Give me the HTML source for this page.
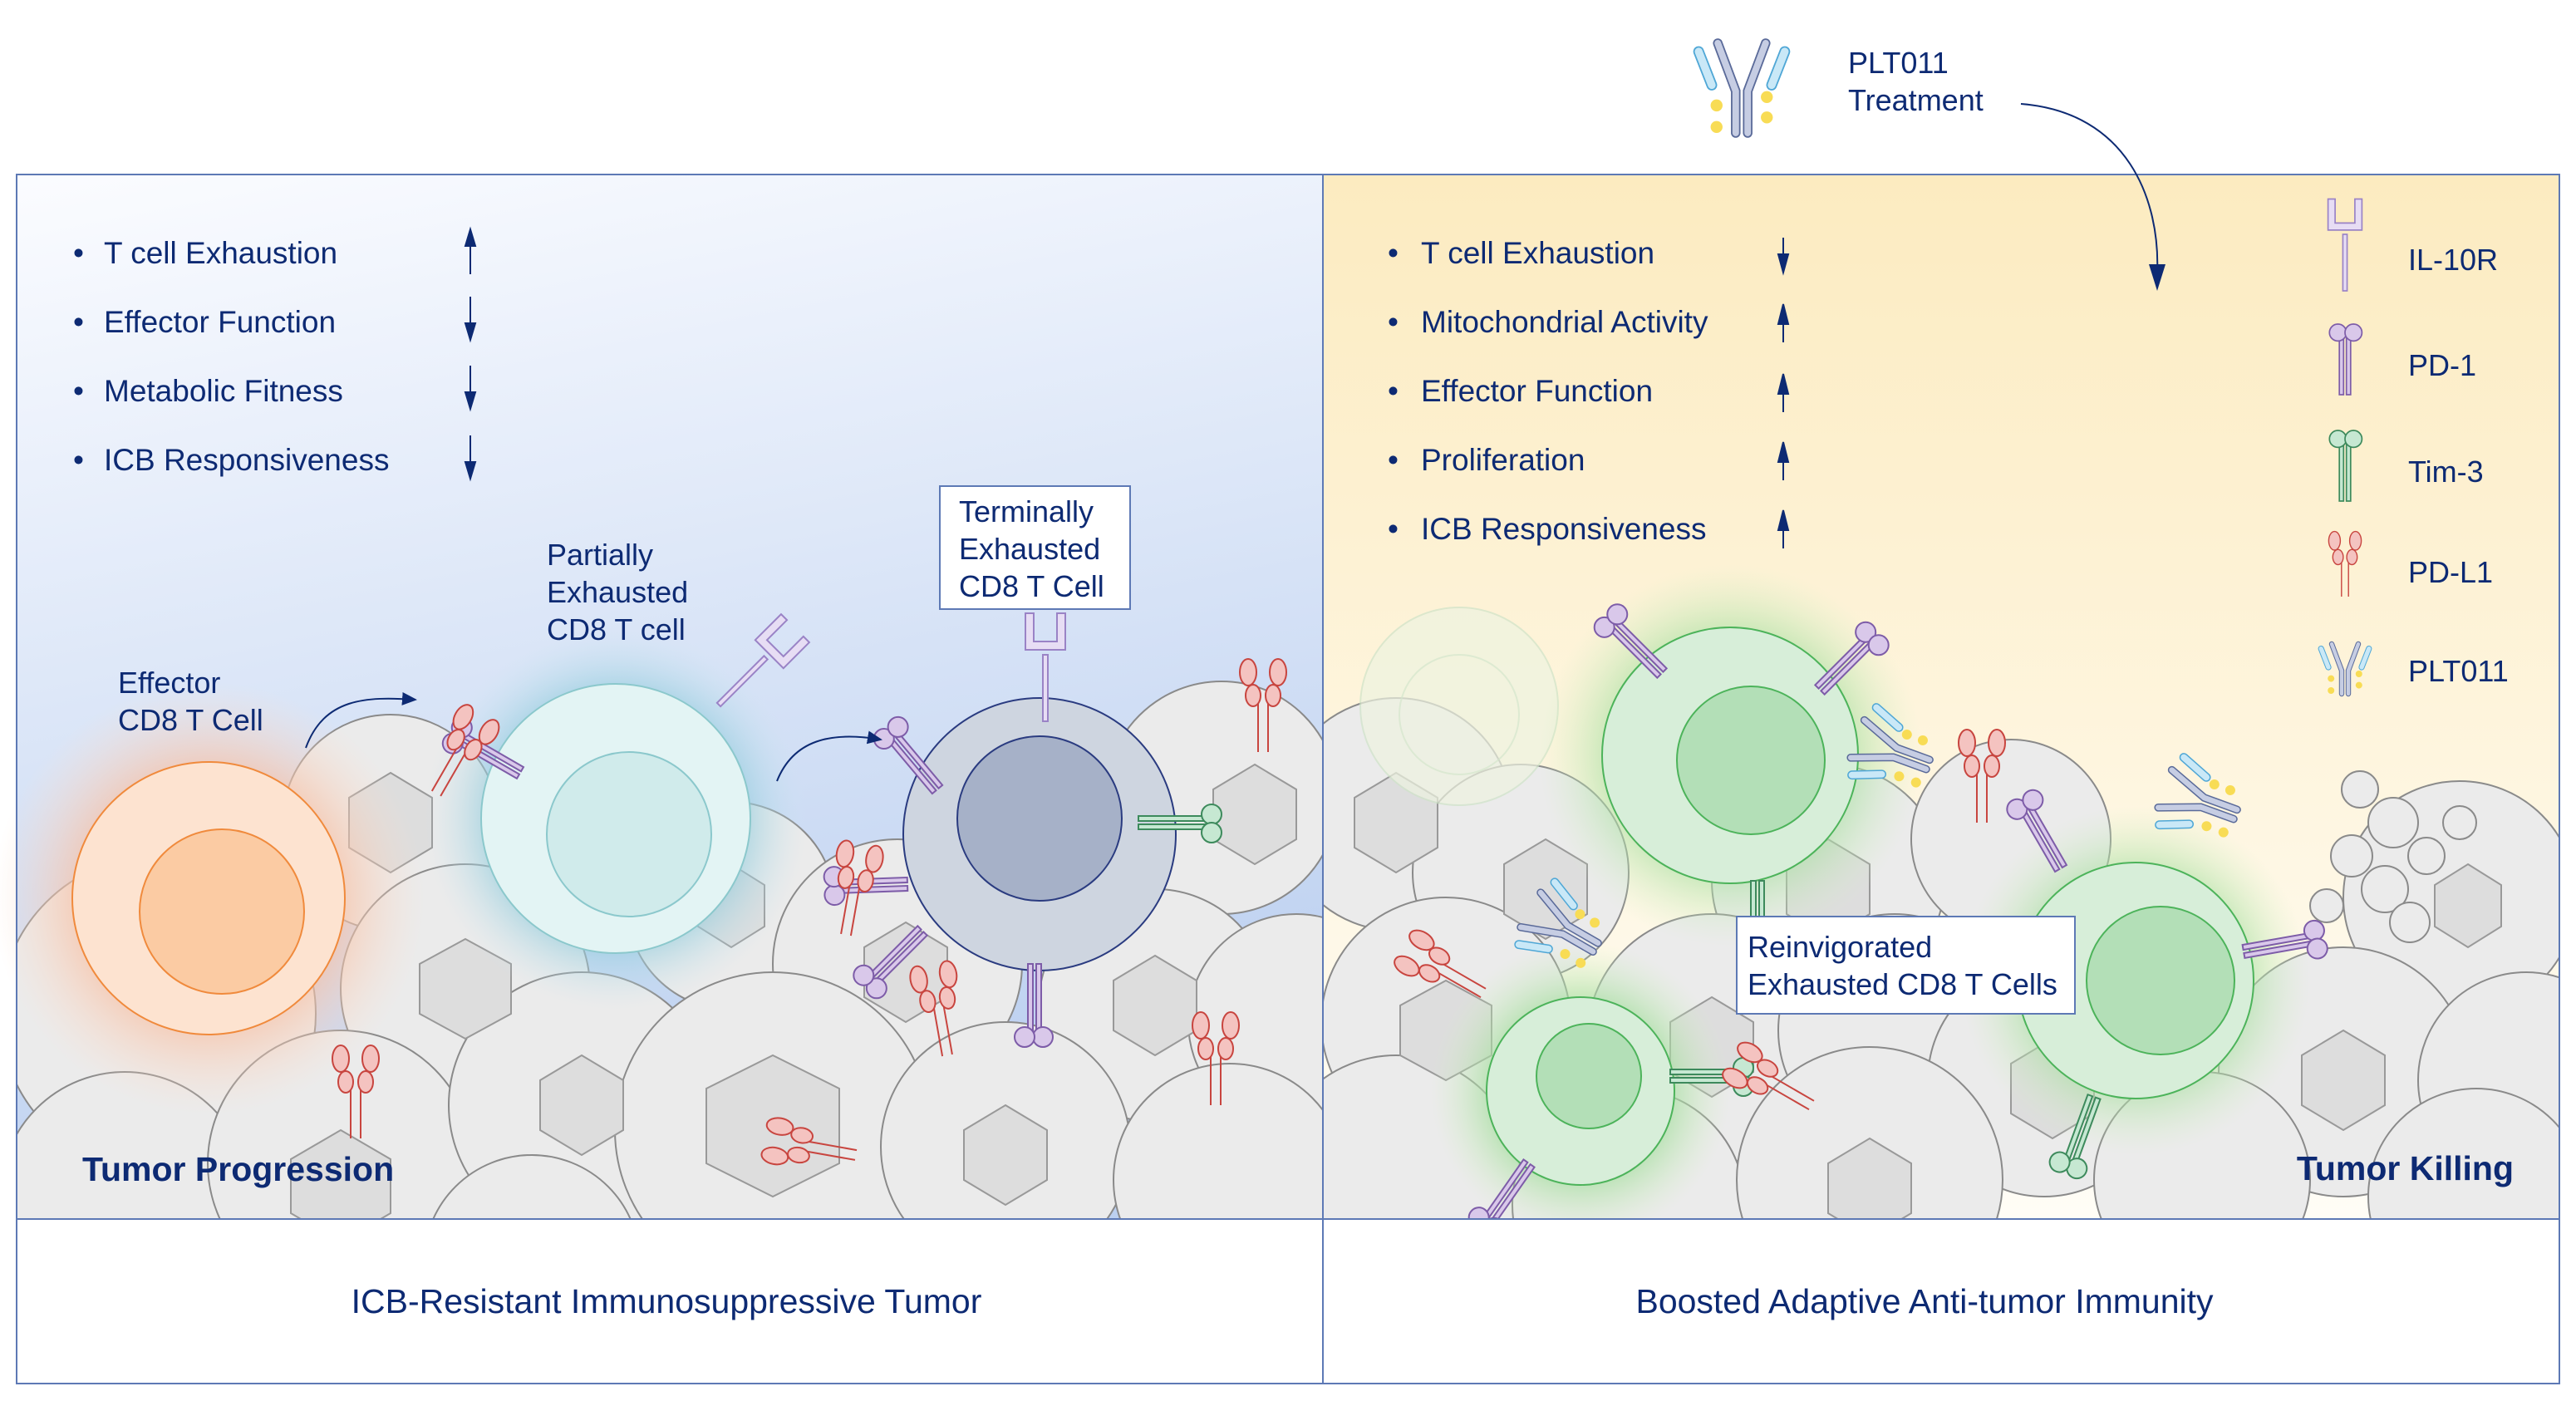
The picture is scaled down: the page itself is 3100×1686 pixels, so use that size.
<!DOCTYPE html>
<html><head><meta charset="utf-8"><style>
html,body{margin:0;padding:0;background:#fff}
svg{display:block}
text{font-family:"Liberation Sans",sans-serif;fill:#0d2a73}
</style></head><body>
<svg width="3100" height="1686" viewBox="0 0 3100 1686" xmlns="http://www.w3.org/2000/svg">
<defs>
<linearGradient id="gl" x1="0" y1="0" x2="0.25" y2="1"><stop offset="0" stop-color="#fbfcff"/><stop offset="1" stop-color="#bcd0f0"/></linearGradient>
<linearGradient id="gr" x1="0" y1="0" x2="0" y2="1"><stop offset="0" stop-color="#fcebc0"/><stop offset="1" stop-color="#fffdf6"/></linearGradient>
<radialGradient id="go"><stop offset="0.5" stop-color="#f7b99a" stop-opacity="0.9"/><stop offset="1" stop-color="#fbe0d0" stop-opacity="0"/></radialGradient>
<radialGradient id="gt"><stop offset="0.55" stop-color="#7fc4d6" stop-opacity="0.9"/><stop offset="1" stop-color="#cfe6f0" stop-opacity="0"/></radialGradient>
<radialGradient id="gg"><stop offset="0.55" stop-color="#9fdc9a" stop-opacity="0.8"/><stop offset="1" stop-color="#d8f0c8" stop-opacity="0"/></radialGradient>
<clipPath id="cl"><rect x="20" y="210" width="1572" height="1257"/></clipPath>
<clipPath id="cr"><rect x="1592" y="210" width="1488" height="1257"/></clipPath>
<marker id="ah" markerWidth="10" markerHeight="10" refX="8" refY="5" orient="auto"><path d="M0,1 L9,5 L0,9 z" fill="#0d2a73"/></marker>
<g id="pdl1" stroke="#c8453f" fill="#f4c3c0" stroke-width="2"><line x1="-6" y1="0" x2="-6" y2="-60"/><line x1="6" y1="0" x2="6" y2="-60"/><ellipse cx="-12" cy="-68" rx="9" ry="13"/><ellipse cx="12" cy="-68" rx="9" ry="13"/><ellipse cx="-18" cy="-96" rx="10" ry="16"/><ellipse cx="18" cy="-96" rx="10" ry="16"/></g>
<g id="pd1" stroke="#7d5ca8" fill="#d9c8ea" stroke-width="2"><rect x="-8" y="-80" width="6" height="80"/><rect x="2" y="-80" width="6" height="80"/><circle cx="-10" cy="-88" r="12"/><circle cx="12" cy="-88" r="12"/></g>
<g id="tim3" stroke="#3d8a5c" fill="#c6e8d2" stroke-width="2"><rect x="-8" y="-80" width="6" height="80"/><rect x="2" y="-80" width="6" height="80"/><circle cx="-10" cy="-88" r="12"/><circle cx="12" cy="-88" r="12"/></g>
<g id="il10" stroke="#9a83c6" fill="#e7ddf4" stroke-width="2"><rect x="-3" y="-80" width="6" height="80"/><path d="M-24,-130 h10 v34 h28 v-34 h10 v44 h-48 z"/></g>
<g id="ab"><path d="M-10,0 V-70 L-40,-150" stroke="#5a6a99" stroke-width="16" fill="none" stroke-linecap="round"/><path d="M10,0 V-70 L40,-150" stroke="#5a6a99" stroke-width="16" fill="none" stroke-linecap="round"/><path d="M-10,0 V-70 L-40,-150" stroke="#c6cde3" stroke-width="11" fill="none" stroke-linecap="round"/><path d="M10,0 V-70 L40,-150" stroke="#c6cde3" stroke-width="11" fill="none" stroke-linecap="round"/><path d="M-50,-80 L-72,-136" stroke="#4fa7d6" stroke-width="18" stroke-linecap="round"/><path d="M50,-80 L72,-136" stroke="#4fa7d6" stroke-width="18" stroke-linecap="round"/><path d="M-50,-80 L-72,-136" stroke="#c9e8f7" stroke-width="13" stroke-linecap="round"/><path d="M50,-80 L72,-136" stroke="#c9e8f7" stroke-width="13" stroke-linecap="round"/><circle cx="-42" cy="-46" r="10" fill="#f8dc55"/><circle cx="-42" cy="-10" r="10" fill="#f8dc55"/><circle cx="42" cy="-60" r="10" fill="#f8dc55"/><circle cx="42" cy="-26" r="10" fill="#f8dc55"/></g>
</defs>

<rect x="20" y="210" width="1572" height="1257" fill="url(#gl)"/>
<rect x="1592" y="210" width="1488" height="1257" fill="url(#gr)"/>

<g clip-path="url(#cl)" fill="#ebebeb" stroke="#8a8a8a" stroke-width="2">
<circle cx="470" cy="990" r="130"/><circle cx="880" cy="1090" r="125"/><circle cx="1470" cy="960" r="140"/>
<circle cx="190" cy="1220" r="190"/><circle cx="560" cy="1190" r="150"/><circle cx="1080" cy="1160" r="150"/><circle cx="1390" cy="1210" r="140"/><circle cx="1560" cy="1230" r="130"/>
<circle cx="150" cy="1440" r="150"/><circle cx="410" cy="1400" r="160"/><circle cx="700" cy="1330" r="160"/><circle cx="930" cy="1360" r="190"/><circle cx="1210" cy="1380" r="150"/><circle cx="1480" cy="1420" r="140"/><circle cx="640" cy="1520" r="130"/>
<g fill="#dddddd" stroke="#999">
<polygon points="470,930 520,960 520,1020 470,1050 420,1020 420,960"/>
<polygon points="880,1040 920,1065 920,1115 880,1140 840,1115 840,1065"/>
<polygon points="1510,920 1560,950 1560,1010 1510,1040 1460,1010 1460,950"/>
<polygon points="560,1130 615,1160 615,1220 560,1250 505,1220 505,1160"/>
<polygon points="1090,1110 1140,1140 1140,1200 1090,1230 1040,1200 1040,1140"/>
<polygon points="1390,1150 1440,1180 1440,1240 1390,1270 1340,1240 1340,1180"/>
<polygon points="930,1270 1010,1310 1010,1400 930,1440 850,1400 850,1310"/>
<polygon points="700,1270 750,1300 750,1360 700,1390 650,1360 650,1300"/>
<polygon points="1210,1330 1260,1360 1260,1420 1210,1450 1160,1420 1160,1360"/>
<polygon points="410,1360 470,1395 470,1460 410,1495 350,1460 350,1395"/>
</g></g>
<g clip-path="url(#cr)" fill="#ebebeb" stroke="#8a8a8a" stroke-width="2">
<circle cx="1680" cy="980" r="140"/><circle cx="1830" cy="1050" r="130"/><circle cx="2200" cy="1060" r="140"/><circle cx="2420" cy="1010" r="120"/><circle cx="2960" cy="1080" r="140"/>
<circle cx="1740" cy="1230" r="150"/><circle cx="2060" cy="1250" r="150"/><circle cx="2280" cy="1240" r="140"/><circle cx="2460" cy="1300" r="140"/><circle cx="2820" cy="1290" r="150"/><circle cx="3040" cy="1300" r="130"/>
<circle cx="1680" cy="1420" r="150"/><circle cx="1960" cy="1450" r="140"/><circle cx="2250" cy="1420" r="160"/><circle cx="2650" cy="1420" r="130"/><circle cx="2980" cy="1440" r="130"/>
<circle cx="2840" cy="950" r="22"/><circle cx="2880" cy="990" r="30"/><circle cx="2830" cy="1030" r="25"/><circle cx="2920" cy="1030" r="22"/><circle cx="2870" cy="1070" r="28"/><circle cx="2800" cy="1090" r="20"/><circle cx="2900" cy="1110" r="24"/><circle cx="2960" cy="990" r="20"/>
<g fill="#dddddd" stroke="#999">
<polygon points="1680,930 1730,960 1730,1020 1680,1050 1630,1020 1630,960"/>
<polygon points="1860,1010 1910,1040 1910,1100 1860,1130 1810,1100 1810,1040"/>
<polygon points="2200,1010 2250,1040 2250,1100 2200,1130 2150,1100 2150,1040"/>
<polygon points="1740,1180 1795,1210 1795,1270 1740,1300 1685,1270 1685,1210"/>
<polygon points="2060,1200 2110,1230 2110,1290 2060,1320 2010,1290 2010,1230"/>
<polygon points="2470,1250 2520,1280 2520,1340 2470,1370 2420,1340 2420,1280"/>
<polygon points="2820,1240 2870,1270 2870,1330 2820,1360 2770,1330 2770,1270"/>
<polygon points="2250,1370 2300,1400 2300,1460 2250,1490 2200,1460 2200,1400"/>
<polygon points="2970,1040 3010,1065 3010,1115 2970,1140 2930,1115 2930,1065"/>
</g></g>

<circle cx="251" cy="1081" r="260" fill="url(#go)"/>
<circle cx="251" cy="1081" r="164" fill="#fde3d0" stroke="#f08a3c" stroke-width="2"/>
<circle cx="267" cy="1097" r="99" fill="#fbcba3" stroke="#f08a3c" stroke-width="2"/>
<circle cx="741" cy="985" r="230" fill="url(#gt)"/>
<circle cx="741" cy="985" r="162" fill="#e3f4f4" stroke="#8bc8cc" stroke-width="2"/>
<circle cx="757" cy="1004" r="99" fill="#d0ebeb" stroke="#8bc8cc" stroke-width="2"/>
<circle cx="1251" cy="1004" r="164" fill="#ced5e0" stroke="#2a3b80" stroke-width="2"/>
<circle cx="1251" cy="985" r="99" fill="#a6b1c8" stroke="#2a3b80" stroke-width="2"/>
<use href="#il10" transform="translate(1258,868)"/>
<use href="#il10" transform="translate(865,848) rotate(45)"/>
<use href="#pd1" transform="translate(1128,950) rotate(-40)"/>
<use href="#pd1" transform="translate(626,930) rotate(-60)"/>
<use href="#pd1" transform="translate(1110,1120) rotate(-135)"/>
<use href="#pd1" transform="translate(1245,1160) rotate(180)"/>
<use href="#pd1" transform="translate(1092,1064) rotate(-92)"/>
<use href="#tim3" transform="translate(1370,990) rotate(90)"/>
<use href="#pdl1" transform="translate(525,955) rotate(30)"/>
<use href="#pdl1" transform="translate(428,1370)"/>
<use href="#pdl1" transform="translate(1018,1125) rotate(10)"/>
<use href="#pdl1" transform="translate(1140,1270) rotate(-10)"/>
<use href="#pdl1" transform="translate(1520,905)"/>
<use href="#pdl1" transform="translate(1463,1330)"/>
<use href="#pdl1" transform="translate(1030,1390) rotate(-80)"/>

<circle cx="1756" cy="850" r="119" fill="#eef3e0" stroke="#cfe3c8" stroke-width="2" opacity="0.7"/>
<circle cx="1756" cy="860" r="72" fill="none" stroke="#d4e6cc" stroke-width="2" opacity="0.7"/>
<circle cx="2082" cy="909" r="230" fill="url(#gg)"/>
<circle cx="2082" cy="909" r="154" fill="#d7eed9" stroke="#4cb35a" stroke-width="2"/>
<circle cx="2107" cy="915" r="89" fill="#b3dfb7" stroke="#4cb35a" stroke-width="2"/>
<circle cx="1902" cy="1313" r="180" fill="url(#gg)"/>
<circle cx="1902" cy="1313" r="113" fill="#d7eed9" stroke="#4cb35a" stroke-width="2"/>
<circle cx="1912" cy="1295" r="63" fill="#b3dfb7" stroke="#4cb35a" stroke-width="2"/>
<circle cx="2570" cy="1180" r="210" fill="url(#gg)"/>
<circle cx="2570" cy="1180" r="142" fill="#d7eed9" stroke="#4cb35a" stroke-width="2"/>
<circle cx="2600" cy="1180" r="89" fill="#b3dfb7" stroke="#4cb35a" stroke-width="2"/>
<use href="#pd1" transform="translate(2000,810) rotate(-45)"/>
<use href="#pd1" transform="translate(2190,830) rotate(45)"/>
<use href="#tim3" transform="translate(2115,1060) rotate(180)"/>
<use href="#tim3" transform="translate(2010,1295) rotate(90)"/>
<use href="#tim3" transform="translate(2520,1320) rotate(-160)"/>
<use href="#pd1" transform="translate(2480,1045) rotate(-30)"/>
<use href="#pd1" transform="translate(2700,1145) rotate(80)"/>
<use href="#pd1" transform="translate(1840,1400) rotate(-145)"/>
<use href="#pdl1" transform="translate(1785,1195) rotate(-60)"/>
<use href="#pdl1" transform="translate(2180,1330) rotate(-60)"/>
<use href="#pdl1" transform="translate(2385,990) rotate(0)"/>
<use href="#ab" transform="translate(1920,1140) rotate(-60) scale(0.6)"/>
<use href="#ab" transform="translate(2320,920) rotate(-70) scale(0.6)"/>
<use href="#ab" transform="translate(2690,980) rotate(-70) scale(0.6)"/>

<rect x="20" y="210" width="3060" height="1455" fill="none" stroke="#5d79b5" stroke-width="2"/>
<line x1="1592" y1="210" x2="1592" y2="1665" stroke="#5d79b5" stroke-width="2"/>
<line x1="20" y1="1467" x2="3080" y2="1467" stroke="#5d79b5" stroke-width="2"/>
<rect x="21" y="1468" width="1570" height="196" fill="#fff"/>
<rect x="1593" y="1468" width="1486" height="196" fill="#fff"/>

<g font-size="37">
<text x="88" y="317">•</text><text x="125" y="317">T cell Exhaustion</text>
<text x="88" y="400">•</text><text x="125" y="400">Effector Function</text>
<text x="88" y="483">•</text><text x="125" y="483">Metabolic Fitness</text>
<text x="88" y="566">•</text><text x="125" y="566">ICB Responsiveness</text>
</g>
<g stroke="#0d2a73" stroke-width="2" fill="#0d2a73">
<line x1="566" y1="330" x2="566" y2="290"/><path d="M560,296 L566,276 L572,296z"/>
<line x1="566" y1="357" x2="566" y2="395"/><path d="M560,389 L566,409 L572,389z"/>
<line x1="566" y1="440" x2="566" y2="478"/><path d="M560,472 L566,492 L572,472z"/>
<line x1="566" y1="524" x2="566" y2="562"/><path d="M560,556 L566,576 L572,556z"/>
</g>
<g font-size="37">
<text x="1670" y="317">•</text><text x="1710" y="317">T cell Exhaustion</text>
<text x="1670" y="400">•</text><text x="1710" y="400">Mitochondrial Activity</text>
<text x="1670" y="483">•</text><text x="1710" y="483">Effector Function</text>
<text x="1670" y="566">•</text><text x="1710" y="566">Proliferation</text>
<text x="1670" y="649">•</text><text x="1710" y="649">ICB Responsiveness</text>
</g>
<g stroke="#0d2a73" stroke-width="2" fill="#0d2a73">
<line x1="2146" y1="286" x2="2146" y2="312"/><path d="M2140,306 L2146,328 L2152,306z"/>
<line x1="2146" y1="412" x2="2146" y2="385"/><path d="M2140,390 L2146,366 L2152,390z"/>
<line x1="2146" y1="496" x2="2146" y2="470"/><path d="M2140,474 L2146,450 L2152,474z"/>
<line x1="2146" y1="578" x2="2146" y2="552"/><path d="M2140,556 L2146,532 L2152,556z"/>
<line x1="2146" y1="660" x2="2146" y2="634"/><path d="M2140,638 L2146,614 L2152,638z"/>
</g>

<use href="#il10" transform="translate(2822,350) scale(0.85)"/>
<use href="#pd1" transform="translate(2822,475) scale(0.85)"/>
<use href="#tim3" transform="translate(2822,603) scale(0.85)"/>
<use href="#pdl1" transform="translate(2822,718) scale(0.7)"/>
<use href="#ab" transform="translate(2822,835) scale(0.4)"/>
<g font-size="36">
<text x="2898" y="325">IL-10R</text><text x="2898" y="452">PD-1</text><text x="2898" y="580">Tim-3</text><text x="2898" y="701">PD-L1</text><text x="2898" y="820">PLT011</text>
</g>

<use href="#ab" transform="translate(2096,160) scale(0.72)"/>
<text x="2224" y="88" font-size="36">PLT011</text>
<text x="2224" y="133" font-size="36">Treatment</text>
<path d="M2432,125 C2560,135 2600,240 2596,330" fill="none" stroke="#0d2a73" stroke-width="2"/>
<path d="M2586,318 L2596,350 L2606,318z" fill="#0d2a73"/>

<g font-size="36">
<text x="142" y="834">Effector</text><text x="142" y="879">CD8 T Cell</text>
<text x="658" y="680">Partially</text><text x="658" y="725">Exhausted</text><text x="658" y="770">CD8 T cell</text>
</g>
<path d="M368,900 C390,840 440,838 500,842" fill="none" stroke="#0d2a73" stroke-width="2" marker-end="url(#ah)"/>
<path d="M935,940 C955,890 1000,880 1060,890" fill="none" stroke="#0d2a73" stroke-width="2" marker-end="url(#ah)"/>
<rect x="1131" y="585" width="229" height="148" fill="#fff" stroke="#5d79b5" stroke-width="2"/>
<g font-size="36"><text x="1154" y="628">Terminally</text><text x="1154" y="673">Exhausted</text><text x="1154" y="718">CD8 T Cell</text></g>
<rect x="2090" y="1103" width="407" height="117" fill="#fff" stroke="#5d79b5" stroke-width="2"/>
<g font-size="36"><text x="2103" y="1152">Reinvigorated</text><text x="2103" y="1197">Exhausted CD8 T Cells</text></g>
<text x="99" y="1421" font-size="41" font-weight="bold">Tumor Progression</text>
<text x="3025" y="1420" font-size="41" font-weight="bold" text-anchor="end">Tumor Killing</text>
<text x="802" y="1580" font-size="41" text-anchor="middle">ICB-Resistant Immunosuppressive Tumor</text>
<text x="2316" y="1580" font-size="41" text-anchor="middle">Boosted Adaptive Anti-tumor Immunity</text>
</svg>
</body></html>
